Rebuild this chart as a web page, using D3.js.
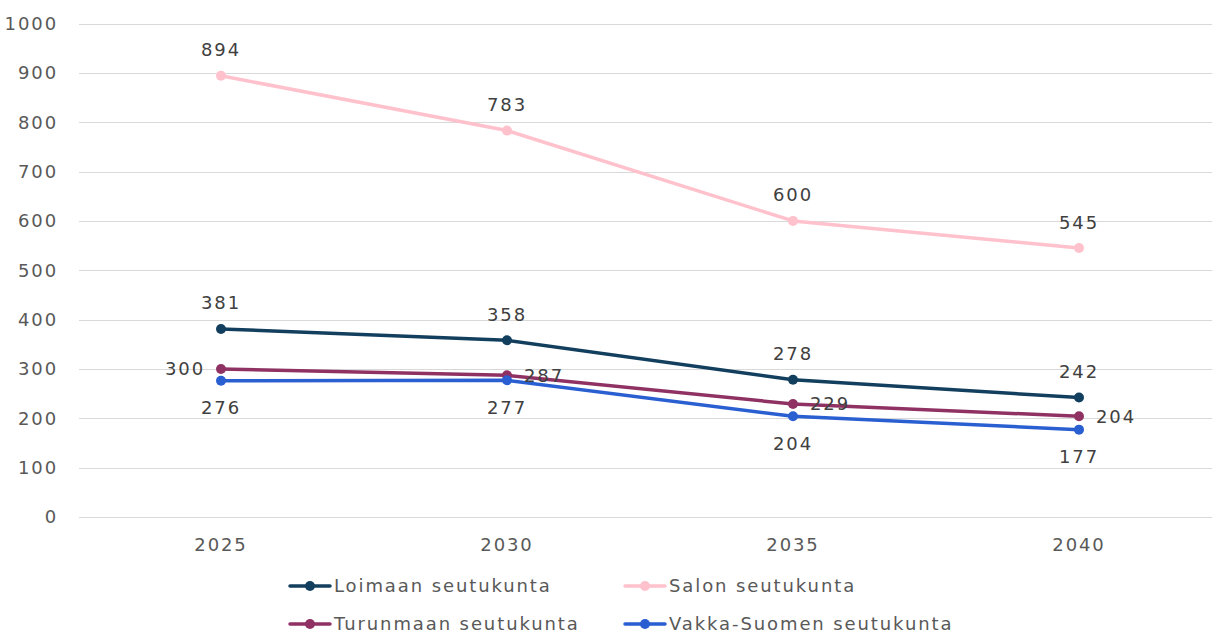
<!DOCTYPE html>
<html>
<head>
<meta charset="utf-8">
<script src="https://cdn.jsdelivr.net/npm/d3@7"></script>
<style>
  body { margin: 0; background: #fff; }
  svg text { font-family: "DejaVu Sans", sans-serif; fill: #595959; font-size: 18px; letter-spacing: 1.9px; }
  svg text.val { fill: #404040; }
</style>
</head>
<body>
<svg id="chart" width="1212" height="635"></svg>
<script>
// data
let years = ["2025", "2030", "2035", "2040"];
let seriesNames = ["Loimaan seutukunta", "Salon seutukunta", "Turunmaan seutukunta", "Vakka-Suomen seutukunta"];
let loimaa = [381, 358, 278, 242];
let salo = [894, 783, 600, 545];
let turunmaa = [300, 287, 229, 204];
let vakka = [276, 277, 204, 177];
let yTicks = [0, 100, 200, 300, 400, 500, 600, 700, 800, 900, 1000];

let colors = ["#133f5e", "#ffc1cc", "#8f3263", "#2a5fd2"];
// where each series puts its value labels
let labelPos = [
    ["above", "above", "above", "above"],
    ["above", "above", "above", "above"],
    ["left", "right", "right", "right"],
    ["below", "below", "below", "below"]
];

let svg = d3.select("#chart");

let x = d3.scalePoint().domain(years).range([78, 1222]).padding(0.5);
let y = d3.scaleLinear().domain([0, 1000]).range([517, 23.5]);

// gridlines
svg.append("g").selectAll("line")
    .data(yTicks)
    .enter().append("line")
    .attr("x1", 79).attr("x2", 1222)
    .attr("y1", d => Math.round(y(d)) + 0.5)
    .attr("y2", d => Math.round(y(d)) + 0.5)
    .attr("stroke", "#d9d9d9")
    .attr("stroke-width", 1);

// y labels
svg.append("g").selectAll("text")
    .data(yTicks)
    .enter().append("text")
    .attr("x", 58)
    .attr("y", d => y(d))
    .attr("dy", "0.36em")
    .attr("text-anchor", "end")
    .text(d => d);

// x labels
svg.append("g").selectAll("text")
    .data(years)
    .enter().append("text")
    .attr("x", d => x(d))
    .attr("y", 551)
    .attr("text-anchor", "middle")
    .text(d => d);

let allSeries = [loimaa, salo, turunmaa, vakka];

let line = d3.line()
    .x((d, i) => x(years[i]))
    .y(d => y(d));

allSeries.forEach((vals, s) => {
    let g = svg.append("g");
    g.append("path")
        .datum(vals)
        .attr("d", line)
        .attr("fill", "none")
        .attr("stroke", colors[s])
        .attr("stroke-width", 3.5)
        .attr("stroke-linejoin", "round");
    g.selectAll("circle")
        .data(vals)
        .enter().append("circle")
        .attr("cx", (d, i) => x(years[i]))
        .attr("cy", d => y(d))
        .attr("r", 5)
        .attr("fill", colors[s]);
});

// value labels drawn after lines so they sit on top
allSeries.forEach((vals, s) => {
    svg.append("g").selectAll("text")
        .data(vals)
        .enter().append("text")
        .attr("class", "val")
        .attr("x", (d, i) => {
            let p = labelPos[s][i];
            if (p === "left") return x(years[i]) - 16;
            if (p === "right") return x(years[i]) + 17;
            return x(years[i]);
        })
        .attr("y", (d, i) => {
            let p = labelPos[s][i];
            if (p === "above") return y(d) - 26;
            if (p === "below") return y(d) + 27;
            return y(d);
        })
        .attr("dy", "0.36em")
        .attr("text-anchor", (d, i) => {
            let p = labelPos[s][i];
            if (p === "left") return "end";
            if (p === "right") return "start";
            return "middle";
        })
        .text(d => d);
});

// legend
let legendPos = [[290, 586], [625, 586], [290, 624], [625, 624]];
seriesNames.forEach((name, s) => {
    let lx = legendPos[s][0], ly = legendPos[s][1];
    let g = svg.append("g");
    g.append("line")
        .attr("x1", lx).attr("x2", lx + 40)
        .attr("y1", ly).attr("y2", ly)
        .attr("stroke", colors[s])
        .attr("stroke-width", 3.5)
        .attr("stroke-linecap", "round");
    g.append("circle")
        .attr("cx", lx + 20).attr("cy", ly)
        .attr("r", 5)
        .attr("fill", colors[s]);
    g.append("text")
        .attr("x", lx + 44)
        .attr("y", ly)
        .attr("dy", "0.36em")
        .text(name);
});
</script>
</body>
</html>
